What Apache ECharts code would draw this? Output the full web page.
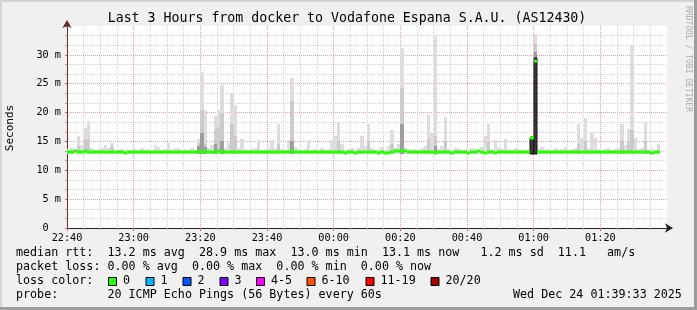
<!DOCTYPE html>
<html><head><meta charset="utf-8">
<script src="https://cdn.jsdelivr.net/npm/echarts@6/dist/echarts.min.js"></script>
<style>html,body{margin:0;padding:0;background:#f0f0f0;}#c{width:697px;height:310px;}</style>
</head><body><div id="c"></div>
<script>
// ---------- data ----------
const titleText = 'Last 3 Hours from docker to Vodafone Espana S.A.U. (AS12430)';
const xTickLabels = ['22:40','23:00','23:20','23:40','00:00','00:20','00:40','01:00','01:20'];
const yUnitLabel = 'Seconds';
// median rtt per minute (ms), minutes 0..177 since 22:40
const medianRtt = [
 13.2,13.2,13.3,13.2,13.2,13.3,13.2,13.2,13.1,13.2,13.2,13.2,13.1,13.2,13.2,13.2,13.2,13.0,13.1,13.2,
 13.2,13.2,13.1,13.2,13.2,13.2,13.2,13.2,13.1,13.2,13.2,13.2,13.2,13.2,13.1,13.2,13.2,13.2,13.2,13.2,
 13.3,13.2,13.2,13.2,13.2,13.3,13.2,13.2,13.2,13.2,13.2,13.2,13.1,13.2,13.2,13.2,13.2,13.2,13.2,13.1,
 13.2,13.2,13.2,13.2,13.2,13.2,13.2,13.3,13.2,13.2,13.2,13.2,13.2,13.2,13.2,13.1,13.2,13.2,13.1,13.2,
 13.2,13.2,13.1,13.0,13.2,13.2,13.0,13.2,13.2,13.2,13.2,13.2,13.2,13.0,13.2,13.0,13.0,13.2,13.3,13.3,
 13.4,13.3,13.2,13.2,13.2,13.2,13.2,13.2,13.2,13.2,13.0,13.2,13.2,13.2,13.2,13.0,13.2,13.2,13.2,13.2,
 13.0,13.2,13.2,13.3,13.2,13.0,13.2,13.2,13.0,13.2,13.2,13.2,13.2,13.2,13.2,13.2,13.2,13.2,13.2,15.6,
 28.9,13.2,13.2,13.2,13.2,13.2,13.2,13.2,13.2,13.2,13.2,13.2,13.2,13.2,13.2,13.2,13.2,13.2,13.2,13.2,
 13.2,13.2,13.2,13.2,13.2,13.2,13.2,13.2,13.2,13.2,13.2,13.2,13.2,13.2,13.1,13.0,13.1,13.1
];
// highest ping per minute (ms) - light smoke top
const smokeMax = [
 13.7,13.8,13.7,15.9,14.3,17.4,18.6,13.8,13.6,13.7,13.8,14.3,13.9,14.8,13.6,13.6,13.7,13.5,13.6,13.6,
 13.7,13.6,13.8,13.6,13.7,13.6,14.3,14.0,13.6,13.7,14.8,13.7,13.9,13.8,13.6,13.7,13.6,13.8,13.6,15.5,
 27.1,20.4,13.8,14.3,19.4,20.4,24.8,13.9,14.8,23.3,21.3,13.8,15.5,13.7,13.6,13.7,13.8,15.2,13.6,13.7,
 13.8,15.2,13.9,18.1,13.7,13.6,15.3,26.0,14.0,13.7,13.6,13.7,15.2,13.6,13.7,13.6,13.8,13.6,13.7,15.3,
 15.9,18.4,14.5,13.6,13.7,13.8,13.6,13.9,15.9,14.2,18.1,13.8,13.6,13.7,14.0,13.6,14.2,16.9,13.8,14.6,
 31.2,13.9,13.7,13.6,13.7,13.6,13.8,14.2,19.5,16.5,33.2,13.7,14.2,19.3,13.7,13.6,13.8,13.8,13.6,13.7,
 13.6,13.8,13.7,13.6,14.0,16.0,18.1,13.7,15.3,13.8,13.7,15.5,13.7,13.6,13.8,13.7,13.6,13.7,13.6,15.9,
 33.6,13.7,14.0,13.6,13.7,13.6,13.8,13.6,13.7,14.0,13.6,13.7,13.8,18.1,15.6,19.1,13.8,16.4,15.6,13.7,
 13.6,13.7,13.8,13.6,13.7,13.8,18.1,14.4,17.2,31.6,15.6,13.7,13.8,18.4,13.6,13.7,13.6,14.6
];
// [minute, ms] upper edge of the denser (medium grey) smoke
const smokeMid = [
 [3,14.2],[5,15.5],[6,15.5],[13,14.0],[39,14.8],[40,20.4],[41,14.5],[44,17.0],[45,17.5],[46,20.0],
 [49,18.0],[50,16.0],[63,14.5],[67,22.0],[81,15.0],[90,15.0],[97,14.5],[100,24.2],[108,15.5],[110,16.0],
 [113,15.0],[126,15.0],[139,15.9],[140,32.0],[153,14.5],[155,15.0],[166,15.0],[168,15.0],[169,17.0],[173,15.0]
];
// [minute, ms] upper edge of the dark smoke
const smokeDark = [[39,14.2],[40,16.5],[41,14.0],[44,14.5],[46,15.0],[67,15.0],[100,18.0],[110,14.2],[139,15.9],[140,30.5]];
// [minute, ms] upper edge of the darkest smoke core
const smokeCore = [[139,15.6],[140,29.5]];
const smokeFloor = 12.9;
const lossLegend = [['0','#26ff00'],['1','#00b8ff'],['2','#0059ff'],['3','#7e00ff'],['4-5','#ff00ff'],['6-10','#ff5500'],['11-19','#ff0000'],['20/20','#a10000']];
const legendText = [
 'median rtt:  13.2 ms avg  28.9 ms max  13.0 ms min  13.1 ms now   1.2 ms sd  11.1   am/s',
 'packet loss: 0.00 % avg  0.00 % max  0.00 % min  0.00 % now',
 'loss color:',
 'probe:       20 ICMP Echo Pings (56 Bytes) every 60s'
];
const stampText = 'Wed Dec 24 01:39:33 2025';

// ---------- chart ----------
const MONO = '"DejaVu Sans Mono", monospace';
const chart = echarts.init(document.getElementById('c'), null, {renderer:'canvas'});

function smokeItem(fill, stroke) {
  return function (params, api) {
    const m = api.value(0), top = api.value(1);
    const a = api.coord([m, smokeFloor]);
    const b = api.coord([m + 1, top]);
    const x0 = Math.round(a[0]), x1 = Math.round(b[0]);
    const y0 = Math.round(a[1]), y1 = Math.round(b[1]);
    return {type:'rect', shape:{x:x0, y:y1, width:x1 - x0, height:y0 - y1},
      style:{fill:fill, stroke:stroke || null, lineWidth:stroke ? 1 : 0}};
  };
}
function medianItem(params, api) {
  const m = api.value(0), v = api.value(1);
  const a = api.coord([m, v]);
  const b = api.coord([m + 1, v]);
  const x0 = Math.round(a[0]), x1 = Math.round(b[0]);
  const y = Math.round(a[1]);
  return {type:'rect', shape:{x:x0, y:y - 1.5, width:x1 - x0, height:3}, style:{fill:'#26ff00'}};
}

const legendGraphics = [];
legendText.forEach((t, i) => {
  legendGraphics.push({type:'text', left:16, top:247 + i * 14, silent:true,
    style:{text:t, font:'11.7px ' + MONO, fill:'#000'}});
});
const boxX = [108, 145.5, 182.5, 219.5, 256, 306.5, 365.5, 430.5];
lossLegend.forEach((e, i) => {
  legendGraphics.push({type:'rect', shape:{x:boxX[i] + 0.5, y:277.5, width:8, height:8},
    style:{fill:e[1], stroke:'#000', lineWidth:1}, silent:true});
  legendGraphics.push({type:'text', left:boxX[i] + 15, top:275, silent:true,
    style:{text:e[0], font:'11.7px ' + MONO, fill:'#000'}});
});
legendGraphics.push({type:'text', left:513, top:289, silent:true,
  style:{text:stampText, font:'11.7px ' + MONO, fill:'#000'}});

const option = {
  animation:false,
  backgroundColor:'#f0f0f0',
  grid:{left:67, top:26, width:600, height:202, show:true, backgroundColor:'#ffffff', borderWidth:0},
  xAxis:{
    type:'value', min:0, max:180, interval:20,
    axisLine:{show:true, onZero:false, lineStyle:{color:'#222', width:1}, symbol:['none','arrow'], symbolSize:[7,8], symbolOffset:[0,6]},
    axisTick:{show:true, length:3, inside:false, lineStyle:{color:'#c86464'}},
    minorTick:{show:true, splitNumber:4, length:2, lineStyle:{color:'#aaa'}},
    axisLabel:{margin:5, color:'#000', fontFamily:MONO, fontSize:10.2,
      formatter:(v) => { const k = Math.round(v / 20); return k < xTickLabels.length ? xTickLabels[k] : ''; }},
    splitLine:{show:true, showMaxLine:false, lineStyle:{color:'#eba0a0', type:[1,1], width:1}},
    minorSplitLine:{show:true, lineStyle:{color:'#d2d2d2', type:[1,1], width:1}}
  },
  yAxis:{
    type:'value', min:0, max:35, interval:5,
    axisLine:{show:true, lineStyle:{color:'#6b2a2a', width:1}, symbol:['none','arrow'], symbolSize:[7,8], symbolOffset:[0,6]},
    axisTick:{show:true, length:2, lineStyle:{color:'#c86464'}},
    minorTick:{show:true, splitNumber:3, length:2, lineStyle:{color:'#aaa'}},
    axisLabel:{margin:6, fontFamily:MONO, fontSize:10.2, color:'#000',
      formatter:(v) => v === 0 ? '0  ' : (v >= 35 ? '' : v + ' m')},
    splitLine:{show:true, showMaxLine:false, lineStyle:{color:'#eba0a0', type:[1,1], width:1}},
    minorSplitLine:{show:true, lineStyle:{color:'#d2d2d2', type:[1,1], width:1}}
  },
  series:[
    {type:'custom', silent:true, renderItem:smokeItem('#dddddd'), data:smokeMax.map((v, i) => [i, v]), z:2},
    {type:'custom', silent:true, renderItem:smokeItem('#cbcbcb'), data:smokeMid, z:3},
    {type:'custom', silent:true, renderItem:smokeItem('#9e9e9e'), data:smokeDark, z:4},
    {type:'custom', silent:true, renderItem:smokeItem('#3c3c3c', '#111'), data:smokeCore, z:5},
    {type:'custom', silent:true, renderItem:medianItem, data:medianRtt.map((v, i) => [i, v]), z:6}
  ],
  graphic:[
    {type:'rect', shape:{x:0, y:0, width:697, height:2}, style:{fill:'#d4d4d4'}, silent:true, z:-1},
    {type:'rect', shape:{x:0, y:0, width:2, height:310}, style:{fill:'#d4d4d4'}, silent:true, z:-1},
    {type:'rect', shape:{x:0, y:307, width:697, height:3}, style:{fill:'#9c9c9c'}, silent:true},
    {type:'rect', shape:{x:694, y:0, width:3, height:310}, style:{fill:'#9c9c9c'}, silent:true},
    {type:'text', x:347, y:19, silent:true,
      style:{text:titleText, font:'13.25px ' + MONO, fill:'#000', align:'center', verticalAlign:'middle'}},
    {type:'text', x:10, y:128, rotation:Math.PI / 2, silent:true,
      style:{text:yUnitLabel, font:'11px ' + MONO, fill:'#000', align:'center', verticalAlign:'middle'}},
    {type:'text', x:688, y:59, rotation:-Math.PI / 2, silent:true,
      style:{text:'RRDTOOL / TOBI OETIKER', font:'8px ' + MONO, fill:'#ababab', align:'center', verticalAlign:'middle'}}
  ].concat(legendGraphics)
};
chart.setOption(option);
</script></body></html>
